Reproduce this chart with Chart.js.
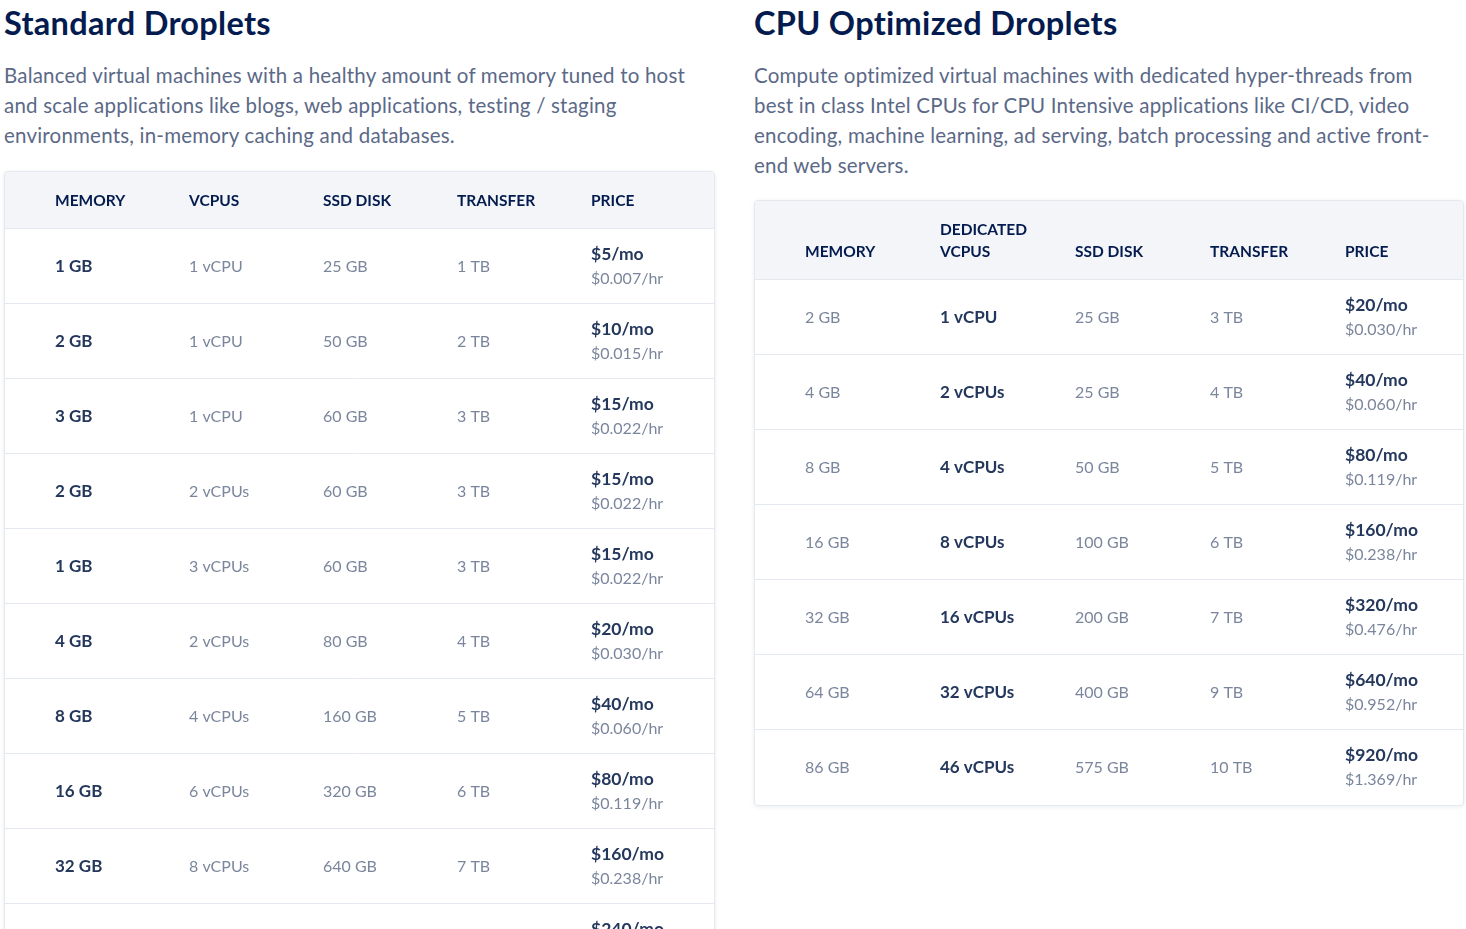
<!DOCTYPE html>
<html><head><meta charset="utf-8">
<script src="https://cdn.jsdelivr.net/npm/chart.js@4"></script>
<style>
body{margin:0;width:1466px;height:929px;overflow:hidden;background:#fff;font-family:Lato,"Open Sans",sans-serif;position:relative}
h2{position:absolute;margin:0;font-size:32.5px;font-weight:700;color:#031b4e;letter-spacing:.3px}
p{position:absolute;margin:0;font-size:20.5px;line-height:30px;color:#5b6987;font-weight:400;letter-spacing:.2px}
.card{position:absolute;border:1px solid #e4e8ef;border-radius:4px;box-shadow:0 1px 4px rgba(3,27,78,.08);background:#fff;overflow:hidden}
canvas{display:block}
</style></head><body>
<h2 style="left:4px;top:3px">Standard Droplets</h2>
<p style="left:4px;top:60px;width:706px">Balanced virtual machines with a healthy amount of memory tuned to host and scale applications like blogs, web applications, testing / staging environments, in-memory caching and databases.</p>
<h2 style="left:754px;top:3px">CPU Optimized Droplets</h2>
<p style="left:754px;top:60px;width:700px">Compute optimized virtual machines with dedicated hyper-threads from best in class Intel CPUs for CPU Intensive applications like CI/CD, video encoding, machine learning, ad serving, batch processing and active front-end web servers.</p>
<div class="card" style="left:4px;top:171px;width:709px;height:800px"><canvas id="std"></canvas></div>
<div class="card" style="left:754px;top:200px;width:708px;height:604px"><canvas id="cpu"></canvas></div>
<script>
// Standard droplets
const stdColumns = ["MEMORY", "VCPUS", "SSD DISK", "TRANSFER", "PRICE"];
const stdMemory = ["1 GB", "2 GB", "3 GB", "2 GB", "1 GB", "4 GB", "8 GB", "16 GB", "32 GB", "48 GB"];
const stdVcpus = ["1 vCPU", "1 vCPU", "1 vCPU", "2 vCPUs", "3 vCPUs", "2 vCPUs", "4 vCPUs", "6 vCPUs", "8 vCPUs", "12 vCPUs"];
const stdDisk = ["25 GB", "50 GB", "60 GB", "60 GB", "60 GB", "80 GB", "160 GB", "320 GB", "640 GB", "960 GB"];
const stdTransfer = ["1 TB", "2 TB", "3 TB", "3 TB", "3 TB", "4 TB", "5 TB", "6 TB", "7 TB", "8 TB"];
const stdMonthly = ["$5/mo", "$10/mo", "$15/mo", "$15/mo", "$15/mo", "$20/mo", "$40/mo", "$80/mo", "$160/mo", "$240/mo"];
const stdHourly = ["$0.007/hr", "$0.015/hr", "$0.022/hr", "$0.022/hr", "$0.022/hr", "$0.030/hr", "$0.060/hr", "$0.119/hr", "$0.238/hr", "$0.357/hr"];

// CPU optimized droplets
const cpuColumns = ["MEMORY", "DEDICATED\nVCPUS", "SSD DISK", "TRANSFER", "PRICE"];
const cpuMemory = ["2 GB", "4 GB", "8 GB", "16 GB", "32 GB", "64 GB", "86 GB"];
const cpuVcpus = ["1 vCPU", "2 vCPUs", "4 vCPUs", "8 vCPUs", "16 vCPUs", "32 vCPUs", "46 vCPUs"];
const cpuDisk = ["25 GB", "25 GB", "50 GB", "100 GB", "200 GB", "400 GB", "575 GB"];
const cpuTransfer = ["3 TB", "4 TB", "5 TB", "6 TB", "7 TB", "9 TB", "10 TB"];
const cpuMonthly = ["$20/mo", "$40/mo", "$80/mo", "$160/mo", "$320/mo", "$640/mo", "$920/mo"];
const cpuHourly = ["$0.030/hr", "$0.060/hr", "$0.119/hr", "$0.238/hr", "$0.476/hr", "$0.952/hr", "$1.369/hr"];

const FONT = 'Lato, "Open Sans", sans-serif';
const DARK = "#24375c", LIGHT = "#7b869c";

// draws table cells at positions given by the chart's x (column) and y (row) scales
const tablePlugin = {
  id: "table",
  beforeDraw(chart, args, opts) {
    const ctx = chart.ctx, xs = chart.scales.x, ys = chart.scales.y;
    const W = chart.width, top = chart.chartArea.top;
    ctx.save();
    ctx.fillStyle = "#f3f5f9";
    ctx.fillRect(0, 0, W, top);
    ctx.strokeStyle = "#e4e8ef"; ctx.lineWidth = 1;
    for (let r = 0; r < opts.rows.length; r++) {
      const y = Math.round(ys.getPixelForValue(r - 0.5)) + 0.5;
      ctx.beginPath(); ctx.moveTo(0, y); ctx.lineTo(W, y); ctx.stroke();
    }
    ctx.textBaseline = "middle"; ctx.textAlign = "left";
    ctx.fillStyle = "#031b4e"; ctx.font = "700 15.5px " + FONT;
    const maxLines = Math.max(...opts.columns.map(c => c.split("\n").length));
    opts.columns.forEach((c, i) => {
      const lines = c.split("\n");
      const off = maxLines - lines.length;
      lines.forEach((l, k) => ctx.fillText(l, xs.getPixelForValue(i), top / 2 + (k + off - (maxLines - 1) / 2) * 22 + 1));
    });
    opts.rows.forEach((row, r) => {
      const y = ys.getPixelForValue(r);
      row.forEach((cell, i) => {
        const x = xs.getPixelForValue(i);
        if (i === 4) {
          ctx.fillStyle = DARK; ctx.font = "700 17.5px " + FONT; ctx.fillText(cell[0], x, y - 11);
          ctx.fillStyle = LIGHT; ctx.font = "400 16px " + FONT; ctx.fillText(cell[1], x, y + 13);
        } else {
          const bold = i === opts.boldCol;
          ctx.fillStyle = bold ? DARK : LIGHT;
          ctx.font = (bold ? "700 17px " : "400 16px ") + FONT;
          ctx.fillText(cell, x, y + 1);
        }
      });
    });
    ctx.restore();
  }
};

function makeTable(id, columns, rows, boldCol, width, header, padLeft, step) {
  const h = header + 75 * rows.length;
  const cv = document.getElementById(id);
  cv.width = width; cv.height = h;
  new Chart(cv, {
    type: "scatter",
    data: { datasets: [{ data: [] }] },
    plugins: [tablePlugin],
    options: {
      responsive: false, animation: false,
      layout: { padding: { top: header, bottom: 0, left: padLeft, right: width - padLeft - step * 4.5 } },
      scales: {
        x: { type: "linear", display: false, min: 0, max: 4.5 },
        y: { type: "linear", display: false, reverse: true, min: -0.5, max: rows.length - 0.5 }
      },
      plugins: { legend: { display: false }, tooltip: { enabled: false },
        table: { columns, rows, boldCol } }
    }
  });
}

const stdRows = stdMemory.map((m, i) => [m, stdVcpus[i], stdDisk[i], stdTransfer[i], [stdMonthly[i], stdHourly[i]]]);
const cpuRows = cpuMemory.map((m, i) => [m, cpuVcpus[i], cpuDisk[i], cpuTransfer[i], [cpuMonthly[i], cpuHourly[i]]]);
makeTable("std", stdColumns, stdRows, 0, 709, 56, 50, 134);
makeTable("cpu", cpuColumns, cpuRows, 1, 708, 78, 50, 135);
</script>
</body></html>
